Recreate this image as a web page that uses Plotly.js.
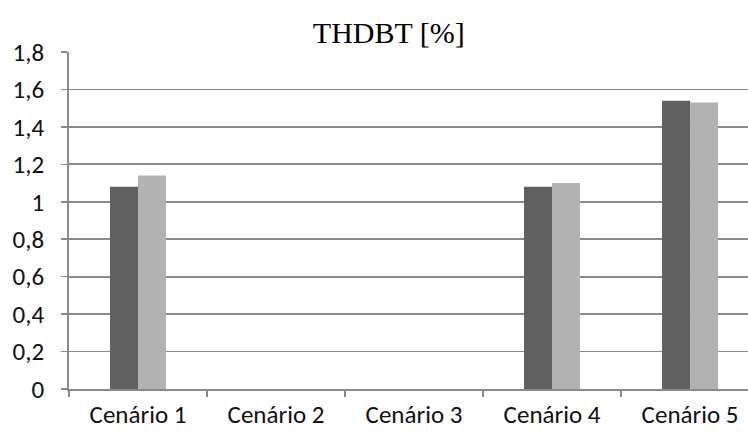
<!DOCTYPE html>
<html>
<head>
<meta charset="utf-8">
<script src="https://cdn.plot.ly/plotly-3.0.1.min.js"></script>
<style>
  html, body { margin: 0; padding: 0; background: #fff; }
  #chart { width: 748px; height: 434px; }
</style>
</head>
<body>
<div id="chart"></div>
<script>
// Scenario categories and the two THDBT series (percent)
const categories = ['Cenário 1', 'Cenário 2', 'Cenário 3', 'Cenário 4', 'Cenário 5'];
const seriesA = [1.08, 0, 0, 1.08, 1.54];
const seriesB = [1.14, 0, 0, 1.10, 1.53];
const yTicks = [0, 0.2, 0.4, 0.6, 0.8, 1, 1.2, 1.4, 1.6, 1.8];

const gridColor = '#8a8a8a';
const labelFont = { family: 'Carlito, Lato, "Liberation Sans", sans-serif', size: 25, color: '#111' };

const traces = [
  { type: 'bar', x: categories, y: seriesA, marker: { color: '#606060' }, hoverinfo: 'skip' },
  { type: 'bar', x: categories, y: seriesB, marker: { color: '#b2b2b2' }, hoverinfo: 'skip' }
];

const layout = {
  width: 748,
  height: 434,
  margin: { l: 69, r: 0, t: 52, b: 45, pad: 0 },
  paper_bgcolor: '#fff',
  plot_bgcolor: '#fff',
  separators: ',.',
  showlegend: false,
  barmode: 'group',
  bargap: 0.594,
  bargroupgap: 0,
  title: {
    text: 'THDBT [%]',
    font: { family: '"Liberation Serif", "Times New Roman", serif', size: 30, color: '#000' },
    x: 0.471, xref: 'paper', xanchor: 'center',
    y: 0.925, yref: 'container', yanchor: 'middle'
  },
  xaxis: {
    type: 'category',
    range: [-0.5, 4.42],
    tickson: 'boundaries',
    ticks: 'outside', ticklen: 6, tickwidth: 1.5, tickcolor: gridColor,
    showline: true, linecolor: gridColor, linewidth: 1.8,
    showgrid: false,
    tickfont: labelFont,
    ticklabelstandoff: 2
  },
  yaxis: {
    range: [0, 1.8],
    tickvals: yTicks,
    tickformat: '.1~f',
    ticks: 'outside', ticklen: 6, tickwidth: 1.5, tickcolor: gridColor,
    showline: true, linecolor: gridColor, linewidth: 1.8,
    showgrid: true, gridcolor: gridColor, gridwidth: 1.8,
    zeroline: false,
    tickfont: labelFont,
    ticklabelstandoff: 12
  }
};

Plotly.newPlot('chart', traces, layout, { staticPlot: true, displayModeBar: false });
</script>
</body>
</html>
